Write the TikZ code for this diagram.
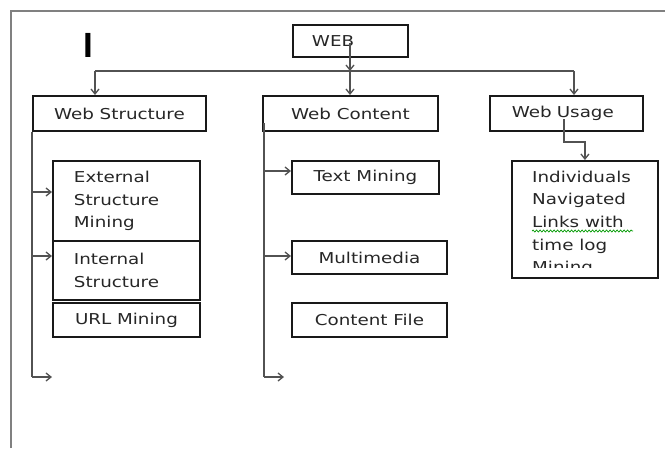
\documentclass[tikz,border=0pt]{standalone}
\usepackage{fontspec}
\setmainfont{DejaVu Sans}[FakeStretch=1.22]
\newfontfamily\barfont{Liberation Sans}
\usetikzlibrary{arrows.meta,decorations.pathmorphing}
\begin{document}
\begin{tikzpicture}[x=1pt,y=-1pt,
  box/.style={draw=black!90, line width=1.9pt, rectangle, inner sep=0pt, anchor=north west,
    text=black!85, font=\fontsize{15}{22.7}\selectfont},
  bx/.style n args={2}{box, minimum width=#1, minimum height=#2},
  lbx/.style n args={3}{box, minimum height=#2, inner xsep=#3, text width=#1-2*#3, align=left},
  conn/.style={draw=black!68, line width=1.7pt},
  arr/.style={conn, -{Straight Barb[length=5pt,width=8pt,line width=1.3pt]}},
  frame/.style={draw=black!50, line width=2pt}]
\useasboundingbox (0,0) rectangle (665,448);
\draw[frame] (11,448) -- (11,11) -- (665,11);
\node[font=\barfont\bfseries\fontsize{35}{35}\selectfont, inner sep=0pt, anchor=base] (cursor) at (88,57) {I};

% top level
\node[lbx={115}{32}{19}] (web) at (292,24) {WEB};
\node[bx={173}{35}] (ws) at (32,95) {Web Structure};
\node[bx={175}{35}] (wc) at (262,95) {Web Content};
\node[lbx={153}{35}{22}] (wu) at (489,95) {Web Usage};

% web structure children
\node[lbx={147}{80}{21}] (ext) at (52,160) {External\\Structure\\Mining};
\node[lbx={147}{59}{21}] (int) at (52,240) {Internal\\Structure};
\node[bx={147}{34}] (url) at (52,302) {URL Mining};

% web content children
\node[bx={147}{33}] (tm) at (291,160) {Text Mining};
\node[bx={155}{33}] (mm) at (291,240) {Multimedia};
\node[bx={155}{34}] (cf) at (291,302) {Content File};

% web usage child
\node[bx={146}{117}] (ind) at (511,160) {};
\begin{scope}
  \clip (511,160) rectangle (657,267);
  \node[anchor=north west, inner sep=0pt, align=left, text=black!85,
        font=\fontsize{15}{22.7}\selectfont] (indtext) at (532,170.5)
        {Individuals\\Navigated\\Links with\\time log\\Mining};
\end{scope}
\draw[green!60!black, line width=0.7pt, decorate,
      decoration={snake, amplitude=1pt, segment length=3.5pt}]
      (532,231) -- (633,231);

% connectors from WEB
\coordinate (webin) at (350,43);
\coordinate (jn) at (350,71);
\coordinate (hl) at (95,71);
\coordinate (hr) at (574,71);
\draw[arr] (webin) -- (jn);
\draw[conn] (hl) -- (hr);
\draw[arr] (hl) -- (hl |- ws.north);
\draw[arr] (jn) -- (jn |- wc.north);
\draw[arr] (hr) -- (hr |- wu.north);

% web usage -> individuals
\coordinate (wuin) at (564,119);
\coordinate (wubend) at (564,142);
\draw[arr] (wuin) -- (wubend) -| (ind.north);

% web structure branch
\coordinate (wsend) at (32,377);
\coordinate (wsfree) at (52,377);
\draw[conn] (ws.south west) -- (wsend);
\draw[arr] (wsend) -- (wsfree);
\draw[arr] (32,192) -- (ext.west |- 0,192);
\draw[arr] (32,256) -- (int.west |- 0,256);

% web content branch
\coordinate (wcin) at (264,123);
\coordinate (wcend) at (264,377);
\coordinate (wcfree) at (284,377);
\draw[conn] (wcin) -- (wcend);
\draw[arr] (wcend) -- (wcfree);
\draw[arr] (264,171) -- (tm.west |- 0,171);
\draw[arr] (264,256) -- (mm.west |- 0,256);
\end{tikzpicture}
\end{document}
